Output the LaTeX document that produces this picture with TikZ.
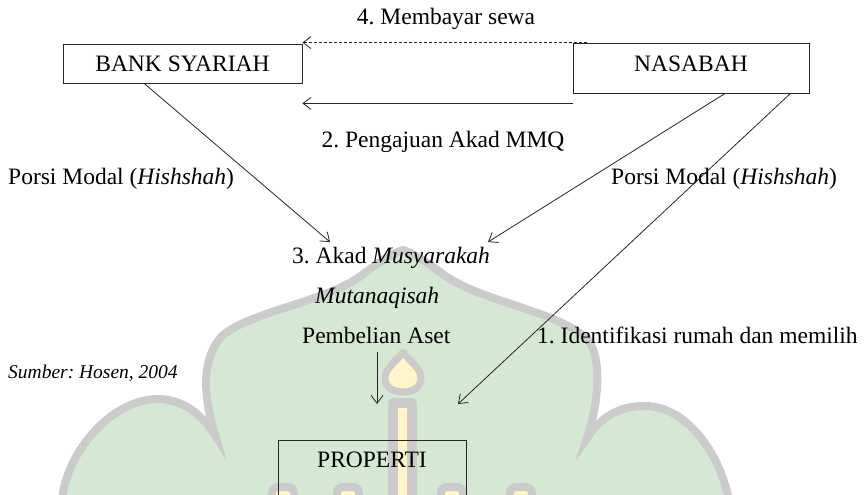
\documentclass[tikz,border=0pt]{standalone}
\usepackage{fontspec}
\setmainfont{Liberation Serif}
\usetikzlibrary{arrows.meta,calc}
\definecolor{wmgreen}{HTML}{D5E8D4}
\definecolor{wmgrey}{HTML}{CBCBCB}
\definecolor{wmyellow}{HTML}{FFF5C6}
\frenchspacing
\begin{document}
\begin{tikzpicture}[x=1pt,y=-1pt,
  txt/.style={inner sep=0pt, font=\fontsize{23.5}{28}\selectfont, text=black},
  box/.style={draw=black!85, line width=0.8pt, inner xsep=0pt},
  arr/.style={-{Straight Barb[length=8pt,width=12pt]}, line width=0.8pt, draw=black!85},
  wm/.style={fill=wmyellow, draw=wmgrey, line join=round}]
\clip (0,0) rectangle (867,495);
% watermark
\path[fill=wmgreen, draw=wmgrey, line width=8pt, line join=miter]
  (61,520) -- (63,492)
  .. controls (72,445) and (115,399) .. (158,399)
  .. controls (182,399) and (202,414) .. (215,435)
  .. controls (206,405) and (198,362) .. (222,336)
  .. controls (252,310) and (330,302) .. (366,272)
  .. controls (385,258) and (398,251) .. (403,250)
  .. controls (408,251) and (421,258) .. (440,272)
  .. controls (478,302) and (558,310) .. (588,340)
  .. controls (603,360) and (598,405) .. (587,438)
  .. controls (603,414) and (622,406) .. (645,406)
  .. controls (683,406) and (716,446) .. (728,495)
  -- (730,520) -- cycle;
\path[wm, line width=7pt] (403,352) .. controls (410,362) and (421,368) .. (421,378)
  .. controls (421,388) and (412,392) .. (403,392)
  .. controls (394,392) and (385,388) .. (385,378)
  .. controls (385,368) and (396,362) .. (403,352) -- cycle;
\path[wm, line width=10pt] (393,403) rectangle (412,520);
\path[wm, line width=8pt, rounded corners=6pt] (272,487) rectangle (294,520);
\path[wm, line width=8pt, rounded corners=6pt] (337,487) rectangle (359,520);
\path[wm, line width=8pt, rounded corners=6pt] (441,487) rectangle (463,520);
\path[wm, line width=8pt, rounded corners=6pt] (510,487) rectangle (532,520);
% texts and boxes
\node[txt, anchor=base] (sewa) at (446,25) {4. Membayar sewa};
\node[txt, box, anchor=base, minimum width=239pt, text height=15.5pt, text depth=0.5pt, inner ysep=11.5pt] (bank) at (182.5,71) {BANK SYARIAH};
\node[txt, box, anchor=base, minimum width=236pt, text height=15.5pt, text depth=9.5pt, inner ysep=12.5pt] (nasabah) at (691,71) {NASABAH};
\node[txt, anchor=base] (pengajuan) at (443,147) {2. Pengajuan Akad MMQ};
\node[txt, anchor=base west] (porsiL) at (8,184) {Porsi Modal (\textit{Hishshah})};
\node[txt, anchor=base west] (porsiR) at (611,184) {Porsi Modal (\textit{Hishshah})};
\node[txt, anchor=base west] (akad) at (292,263) {3. Akad \textit{Musyarakah}};
\node[txt, anchor=base west] (mutan) at (315,303) {\textit{Mutanaqisah}};
\node[txt, anchor=base west] (beli) at (302,343) {Pembelian Aset};
\node[txt, anchor=base west] (ident) at (537,343) {1. Identifikasi rumah dan memilih};
\node[inner sep=0pt, anchor=base west, font=\fontsize{19.5}{23}\selectfont\itshape] (sumber) at (8,378) {Sumber: Hosen, 2004};
\node[txt, box, anchor=base, minimum width=188pt, text height=15.5pt, text depth=60pt, inner ysep=11.5pt] (prop) at (372,467) {PROPERTI};
% connectors
\coordinate (tipA) at (330,242);
\coordinate (tipB) at (488,242);
\coordinate (tipC) at (458,404);
\coordinate (tipD) at (377,404);
\coordinate (s2) at ($(nasabah.south west)+(0,10)$);
\draw[arr, dash pattern=on 3pt off 2pt] ($(nasabah.north west)+(14,0)$) -- (bank.east |- nasabah.north);
\draw[arr] (s2) -- (s2 -| bank.east);
\draw[arr] ($(bank.south west)!0.34!(bank.south east)$) -- (tipA);
\draw[arr] ($(nasabah.south west)!0.644!(nasabah.south east)$) -- (tipB);
\draw[arr] ($(nasabah.south west)!0.92!(nasabah.south east)$) -- (tipC);
\draw[arr] ($(tipD |- beli.south)+(0,9)$) -- (tipD);
\end{tikzpicture}
\end{document}
